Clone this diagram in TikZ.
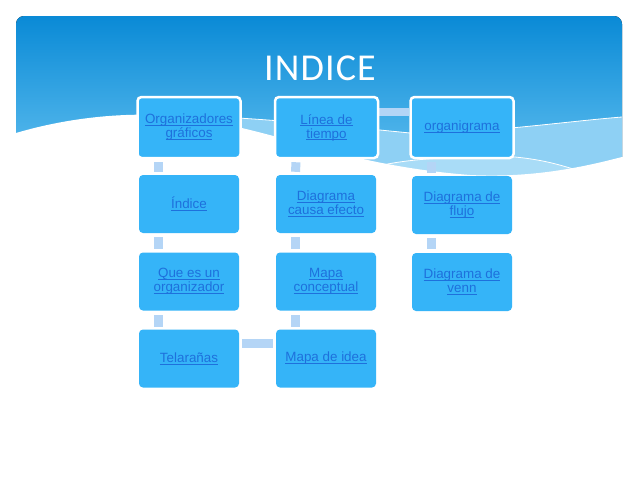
\documentclass[tikz,border=0pt]{standalone}
\usepackage{fontspec}
\setmainfont{Liberation Sans}
\newfontfamily\titlefont[LetterSpace=3]{Carlito}
\definecolor{hdtop}{HTML}{0A8AD6}
\definecolor{hdbot}{HTML}{68C4F2}
\definecolor{bandA}{HTML}{8ED0F4}
\definecolor{bandB}{HTML}{A9DCF7}
\definecolor{boxblue}{HTML}{35B4F8}
\definecolor{linkblue}{HTML}{1E70DC}
\definecolor{connblue}{HTML}{B4D5F6}
\newcommand\lnk[1]{\setbox0\hbox{#1}\rlap{\rule[-1.9pt]{\wd0}{0.7pt}}\box0}
\pgfdeclarelayer{bg}
\pgfdeclarelayer{cn}
\pgfsetlayers{bg,cn,main}
\begin{document}
\begin{tikzpicture}[x=1pt,y=-1pt,
  box/.style={rectangle, rounded corners=4pt, fill=boxblue, minimum width=100pt,
    minimum height=58pt, inner sep=0pt, align=center, text=linkblue,
    font=\fontsize{13.4}{14}\selectfont},
  topbox/.style={box, draw=white, line width=2.5pt, minimum width=103pt, minimum height=61pt},
  conn/.style={draw=connblue, line width=9pt},
  wline/.style={draw=white, line width=0.8pt}]
\useasboundingbox (0,0) rectangle (638,479);
\begin{pgfonlayer}{bg}
  \fill[white] (0,0) rectangle (638,479);
  \fill[top color=hdtop, bottom color=hdbot, rounded corners=8pt] (16,16) rectangle (622,185);
  \fill[bandA] (200,116) .. controls (270,119) and (340,126) .. (410,133)
     .. controls (480,134) and (560,122) .. (622,117) -- (622,185) -- (200,185) -- cycle;
  \fill[bandB] (370,168) .. controls (400,160) and (440,156) .. (515,157)
     .. controls (545,160) and (560,165) .. (580,171) -- (622,185) -- (370,185) -- cycle;
  \draw[wline] (200,116) .. controls (270,119) and (340,126) .. (410,133)
     .. controls (480,134) and (560,122) .. (622,117);
  \draw[wline] (370,168) .. controls (400,160) and (440,156) .. (515,157)
     .. controls (545,160) and (560,165) .. (580,171);
  \fill[white] (0,133) -- (16,133) .. controls (60,120) and (110,113) .. (160,115)
     .. controls (200,117) and (230,125) .. (262,133)
     .. controls (320,148) and (380,168) .. (470,175)
     .. controls (530,178) and (580,168) .. (622,157) -- (640,157) -- (640,479) -- (0,479) -- cycle;
\end{pgfonlayer}

\node[text=white, font=\titlefont\fontsize{38}{40}\selectfont, inner sep=0pt] (title) at (320,68) {INDICE};

\node[topbox] (org) at (189,127.5) {\lnk{Organizadores}\\\lnk{gráficos}};
\node[topbox] (lin) at (326.5,127.5) {\lnk{Línea de}\\\lnk{tiempo}};
\node[topbox] (orgr) at (462,127.5) {\lnk{organigrama}};
\node[box] (ind) at (189,204) {\lnk{Índice}};
\node[box] (diag) at (326,204) {\lnk{Diagrama}\\\lnk{causa efecto}};
\node[box] (flu) at (462,205) {\lnk{Diagrama de}\\\lnk{flujo}};
\node[box] (que) at (189,281.5) {\lnk{Que es un}\\\lnk{organizador}};
\node[box] (mapc) at (326,281.5) {\lnk{Mapa}\\\lnk{conceptual}};
\node[box] (venn) at (462,282) {\lnk{Diagrama de}\\\lnk{venn}};
\node[box] (tel) at (189,358.5) {\lnk{Telarañas}};
\node[box] (mapi) at (326,358.5) {\lnk{Mapa de idea}};

\begin{pgfonlayer}{cn}
  \draw[conn] ([xshift=-30.5pt,yshift=-3pt]org.south) -- ([xshift=-30.5pt,yshift=3pt]ind.north);
  \draw[conn] ([xshift=-30.5pt,yshift=-4pt]ind.south) -- ([xshift=-30.5pt,yshift=3.5pt]que.north);
  \draw[conn] ([xshift=-30.5pt,yshift=-4.5pt]que.south) -- ([xshift=-30.5pt,yshift=2.5pt]tel.north);
  \draw[conn] ([yshift=15pt,xshift=3pt]tel.east) -- ([yshift=15pt,xshift=-3pt]mapi.west);
  \draw[conn] ([xshift=-30.5pt,yshift=-4.5pt]mapc.south) -- ([xshift=-30.5pt,yshift=2.5pt]mapi.north);
  \draw[conn] ([xshift=-30.5pt,yshift=-4pt]diag.south) -- ([xshift=-30.5pt,yshift=3.5pt]mapc.north);
  \draw[conn] ([xshift=-30.5pt,yshift=-3pt]lin.south) -- ([xshift=-30.5pt,yshift=3pt]diag.north);
  \draw[conn, line width=8pt] ([yshift=15.5pt]lin.east) -- ([yshift=15.5pt]orgr.west);
  \draw[conn] ([xshift=-30.5pt,yshift=-3pt]orgr.south) -- ([xshift=-30.5pt,yshift=3pt]flu.north);
  \draw[conn] ([xshift=-30.5pt,yshift=-4pt]flu.south) -- ([xshift=-30.5pt,yshift=3.5pt]venn.north);
\end{pgfonlayer}
\end{tikzpicture}
\end{document}
